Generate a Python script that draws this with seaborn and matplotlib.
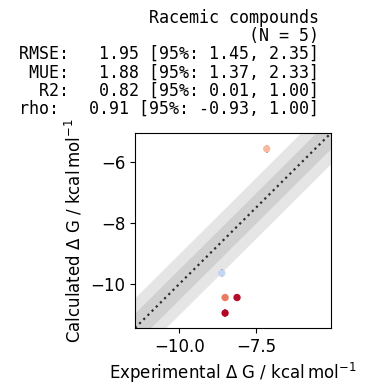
import matplotlib
matplotlib.use("Agg")
import matplotlib.pyplot as plt
import seaborn as sns
import numpy as np
import pandas as pd

# Dữ liệu
exp_dg = [-7.15, -8.62, -8.51, -8.12, -8.51]
calc_dg = [-5.57, -9.65, -10.45, -10.45, -10.96]
exp_err = [0.05, 0.05, 0.05, 0.05, 0.05]
calc_err = [0.12, 0.12, 0.12, 0.12, 0.12]

title_lines = [
    "Racemic compounds",
    "(N = 5)",
    "RMSE:   1.95 [95%: 1.45, 2.35]",
    " MUE:   1.88 [95%: 1.37, 2.33]",
    "  R2:   0.82 [95%: 0.01, 1.00]",
    "rho:   0.91 [95%: -0.93, 1.00]",
]

lims = [-11.45, -5.05]

df = pd.DataFrame({"exp": exp_dg, "calc": calc_dg})
df["abs_err"] = (df["calc"] - df["exp"]).abs()

fig = plt.figure(figsize=(3.66, 3.92), dpi=100)
ax = fig.add_axes([0.369, 0.1633, 0.5355, 0.4974])

# vùng sai số 1 và 0.5 kcal/mol
line = np.array(lims)
ax.fill_between(line, line - 1.0, line + 1.0, color="grey", alpha=0.2, lw=0)
ax.fill_between(line, line - 0.5, line + 0.5, color="grey", alpha=0.2, lw=0)
ax.plot(line, line, color="black", ls=":", lw=1.6, zorder=-1)

ax.errorbar(df["exp"], df["calc"], xerr=exp_err, yerr=calc_err,
            fmt="none", ecolor="grey", elinewidth=1.2, zorder=1)
sns.scatterplot(data=df, x="exp", y="calc", hue="abs_err", palette="coolwarm",
                hue_norm=(0.1, 2.35), s=28, edgecolor="none", legend=False,
                zorder=2, ax=ax)

ax.set_xlim(lims)
ax.set_ylim(lims)
ax.xaxis.set_major_locator(matplotlib.ticker.MultipleLocator(2.5))
ax.yaxis.set_major_locator(matplotlib.ticker.MultipleLocator(2))
ax.tick_params(labelsize=12)
ax.set_xlabel(r"Experimental $\Delta$ G / $\mathrm{kcal\,mol^{-1}}$", fontsize=12)
ax.set_ylabel(r"Calculated $\Delta$ G / $\mathrm{kcal\,mol^{-1}}$", fontsize=12)

fig.text(0.871, 0.978, "\n".join(title_lines), ha="right", va="top",
         multialignment="right", family="DejaVu Sans Mono", fontsize=12,
         linespacing=1.02)

fig.savefig("out.png", dpi=100)
